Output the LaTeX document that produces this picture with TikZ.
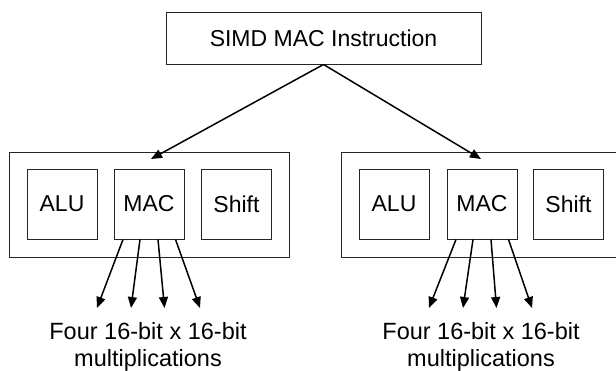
\documentclass[tikz,border=0pt]{standalone}
\usepackage{fontspec}
\setmainfont{Liberation Sans}
\usetikzlibrary{arrows.meta}
\begin{document}
\begin{tikzpicture}[x=1pt,y=-1pt,
  box/.style={draw=black!85, line width=0.9pt, inner sep=0pt, font=\fontsize{23}{27}\selectfont},
  unit/.style={box, minimum width=70pt, minimum height=70pt},
  conn/.style={line width=1.5pt, -{Triangle[length=11pt,width=9pt]}},
  lbl/.style={align=center, inner sep=0pt, font=\fontsize{23.5}{27}\selectfont}]
\clip (0,0) rectangle (616,370);
\fill[white] (0,0) rectangle (616,370);
% top instruction box
\node[box, minimum width=315pt, minimum height=52pt] (top) at (323.5,38) {SIMD MAC Instruction};
% left cluster
\node[box, minimum width=280pt, minimum height=105pt] (outL) at (149,204.5) {};
\node[unit] (aluL) at (62,204) {ALU};
\node[unit] (macL) at (149,204) {MAC};
\node[unit] (shL) at (236.5,204) {Shift};
% right cluster
\node[box, minimum width=280pt, minimum height=105pt] (outR) at (481,204.5) {};
\node[unit] (aluR) at (394,204) {ALU};
\node[unit] (macR) at (482,204) {MAC};
\node[unit] (shR) at (568.5,204) {Shift};
% top arrows
\coordinate (tipL) at (151,159);
\coordinate (tipR) at (481,159);
\draw[conn] (top.south) -- (tipL);
\draw[conn] (top.south) -- (tipR);
% multiplication arrows left
\foreach \i/\s/\e in {1/-26/-52, 2/-9/-18, 3/9/15.5, 4/26.5/51}{
  \coordinate (sL\i) at ([xshift=\s pt]macL.south);
  \coordinate (eL\i) at (149+\e,308);
  \draw[conn] (sL\i) -- (eL\i);
  \coordinate (sR\i) at ([xshift=\s pt]macR.south);
  \coordinate (eR\i) at (481+\e,308);
  \draw[conn] (sR\i) -- (eR\i);
}
% labels
\node[lbl] (txtL) at (148,347) {Four 16-bit x 16-bit\\multiplications};
\node[lbl] (txtR) at (481,347) {Four 16-bit x 16-bit\\multiplications};
\end{tikzpicture}
\end{document}
